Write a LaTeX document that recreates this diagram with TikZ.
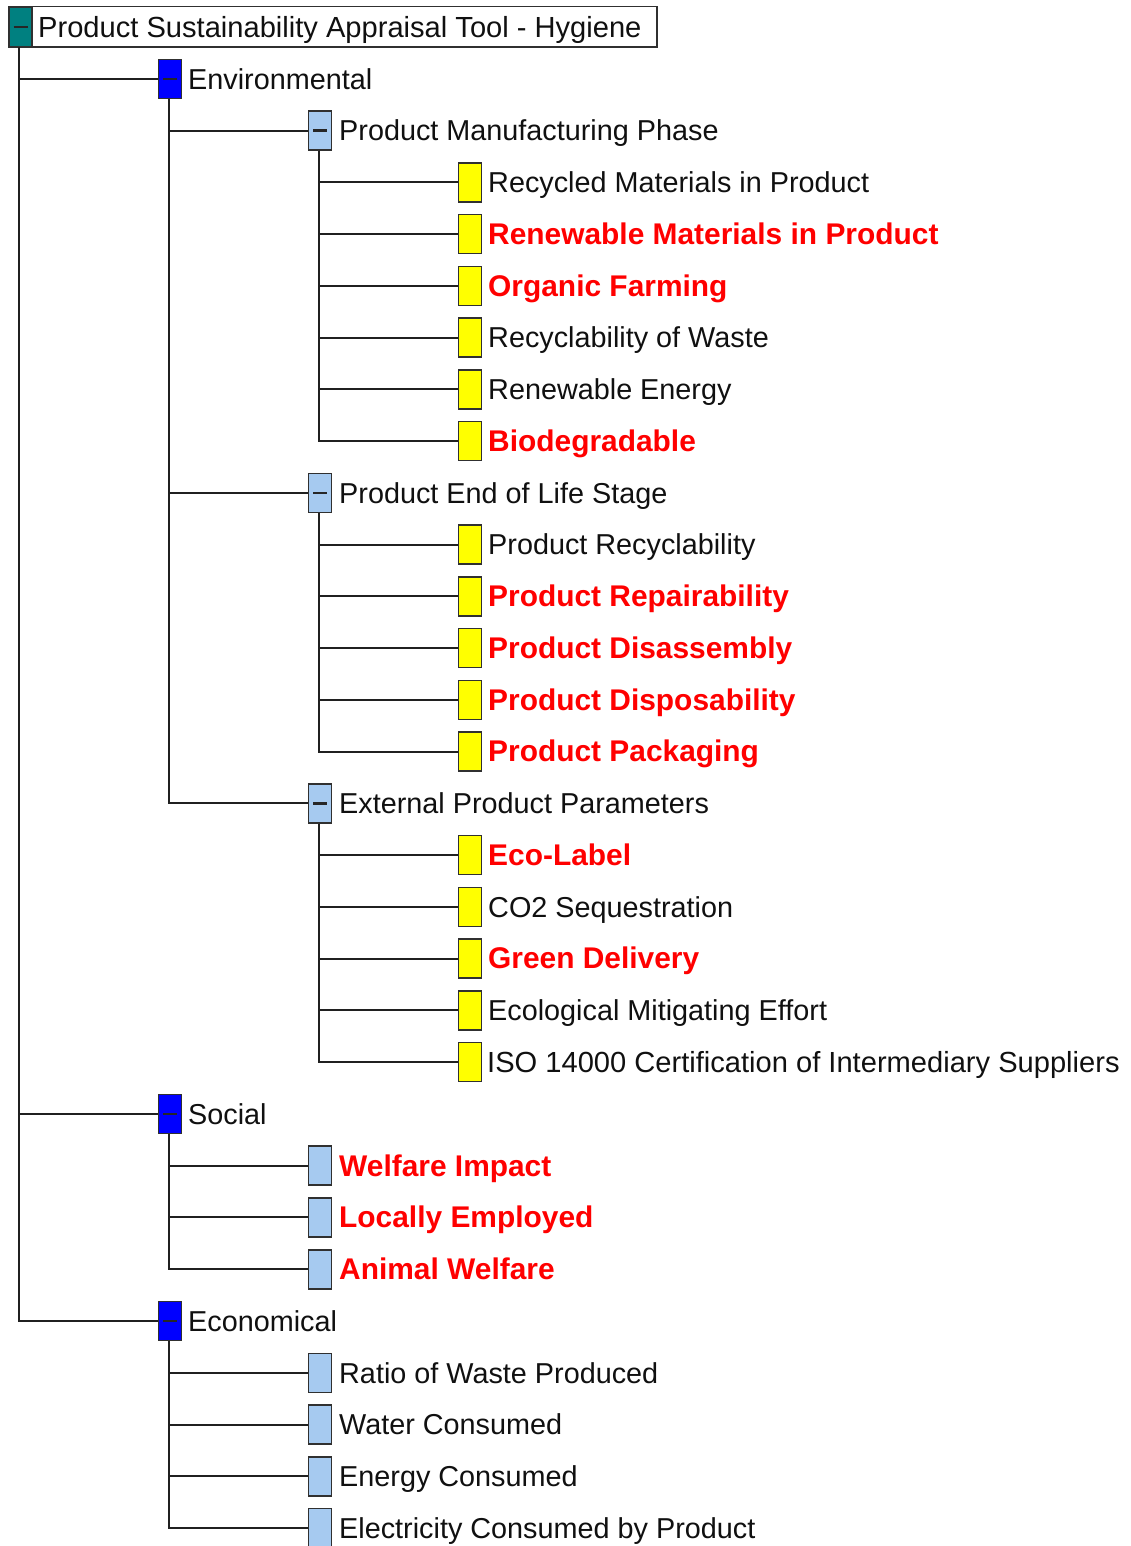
\documentclass[tikz,border=0pt]{standalone}
\usepackage{fontspec}
\setmainfont{Liberation Sans}
\definecolor{rootteal}{HTML}{008080}
\definecolor{catblue}{HTML}{0000FF}
\definecolor{grpblue}{HTML}{A6CAF0}
\definecolor{leafyellow}{HTML}{FFFF00}
\definecolor{hotred}{HTML}{FF0000}
\definecolor{linegray}{HTML}{202020}
\definecolor{boxgray}{HTML}{303030}
\definecolor{txtblack}{HTML}{101010}
\begin{document}
\begin{tikzpicture}[x=1pt,y=-51.76pt,
  conn/.style={draw=linegray, line width=2pt},
  sq/.style={draw=boxgray, line width=1.5pt, minimum width=23pt, minimum height=39pt, inner sep=0pt},
  rootsq/.style={sq, fill=rootteal},
  catsq/.style={sq, fill=catblue},
  grpsq/.style={sq, fill=grpblue},
  leafsq/.style={sq, fill=leafyellow},
  expanded/.style={path picture={\draw[line width=2.2pt, draw=black!85]
      ([xshift=-7pt]path picture bounding box.center) -- ([xshift=7pt]path picture bounding box.center);}},
  lbl/.style={anchor=base west, inner sep=0pt, yshift=-10.3pt, text=txtblack,
      font=\fontsize{28.8}{34}\selectfont},
  hot/.style={lbl, text=hotred, font=\fontsize{29.9}{34}\selectfont\bfseries},
  drop/.style={xshift=-1.5pt},
]
\useasboundingbox (0,-0.52164) rectangle (1130,29.3470);

% root
\node[rootsq, expanded] (root) at (20.5,0) {};
\coordinate (titleend) at (657,0);
\draw[boxgray, line width=1.5pt] (root.north west) rectangle (root.south -| titleend);
\node[lbl, font=\fontsize{29.1}{34}\selectfont] (t-root) at (38,0) {Product Sustainability Appraisal Tool - Hygiene};

% environmental branch
\node[catsq, expanded] (env) at (170,1) {};
\node[lbl] (t-env) at (188,1) {Environmental};

\node[grpsq, expanded] (pmp) at (320,2) {};
\node[lbl] (t-pmp) at (339,2) {Product Manufacturing Phase};
\node[leafsq] (l3) at (470,3) {};
\node[lbl] (t-l3) at (488,3) {Recycled Materials in Product};
\node[leafsq] (l4) at (470,4) {};
\node[hot] (t-l4) at (488,4) {Renewable Materials in Product};
\node[leafsq] (l5) at (470,5) {};
\node[hot] (t-l5) at (488,5) {Organic Farming};
\node[leafsq] (l6) at (470,6) {};
\node[lbl] (t-l6) at (488,6) {Recyclability of Waste};
\node[leafsq] (l7) at (470,7) {};
\node[lbl] (t-l7) at (488,7) {Renewable Energy};
\node[leafsq] (l8) at (470,8) {};
\node[hot] (t-l8) at (488,8) {Biodegradable};

\node[grpsq, expanded] (eol) at (320,9) {};
\node[lbl] (t-eol) at (339,9) {Product End of Life Stage};
\node[leafsq] (l10) at (470,10) {};
\node[lbl] (t-l10) at (488,10) {Product Recyclability};
\node[leafsq] (l11) at (470,11) {};
\node[hot] (t-l11) at (488,11) {Product Repairability};
\node[leafsq] (l12) at (470,12) {};
\node[hot] (t-l12) at (488,12) {Product Disassembly};
\node[leafsq] (l13) at (470,13) {};
\node[hot] (t-l13) at (488,13) {Product Disposability};
\node[leafsq] (l14) at (470,14) {};
\node[hot] (t-l14) at (488,14) {Product Packaging};

\node[grpsq, expanded] (ext) at (320,15) {};
\node[lbl] (t-ext) at (339,15) {External Product Parameters};
\node[leafsq] (l16) at (470,16) {};
\node[hot] (t-l16) at (488,16) {Eco-Label};
\node[leafsq] (l17) at (470,17) {};
\node[lbl] (t-l17) at (488,17) {CO2 Sequestration};
\node[leafsq] (l18) at (470,18) {};
\node[hot] (t-l18) at (488,18) {Green Delivery};
\node[leafsq] (l19) at (470,19) {};
\node[lbl] (t-l19) at (488,19) {Ecological Mitigating Effort};
\node[leafsq] (l20) at (470,20) {};
\node[lbl, font=\fontsize{29.1}{34}\selectfont] (t-l20) at (487,20) {ISO 14000 Certification of Intermediary Suppliers};

% social branch
\node[catsq, expanded] (soc) at (170,21) {};
\node[lbl] (t-soc) at (188,21) {Social};
\node[grpsq] (s22) at (320,22) {};
\node[hot] (t-s22) at (339,22) {Welfare Impact};
\node[grpsq] (s23) at (320,23) {};
\node[hot] (t-s23) at (339,23) {Locally Employed};
\node[grpsq] (s24) at (320,24) {};
\node[hot] (t-s24) at (339,24) {Animal Welfare};

% economical branch
\node[catsq, expanded] (eco) at (170,25) {};
\node[lbl] (t-eco) at (188,25) {Economical};
\node[grpsq] (e26) at (320,26) {};
\node[lbl] (t-e26) at (339,26) {Ratio of Waste Produced};
\node[grpsq] (e27) at (320,27) {};
\node[lbl] (t-e27) at (339,27) {Water Consumed};
\node[grpsq] (e28) at (320,28) {};
\node[lbl] (t-e28) at (339,28) {Energy Consumed};
\node[grpsq] (e29) at (320,29) {};
\node[lbl] (t-e29) at (339,29) {Electricity Consumed by Product};

% tree connectors: down from the parent's box, then across to each child
\foreach \c in {env,soc,eco} \draw[conn] ([drop]root.south) |- (\c.west);
\foreach \c in {pmp,eol,ext} \draw[conn] ([drop]env.south) |- (\c.west);
\foreach \c in {l3,l4,l5,l6,l7,l8} \draw[conn] ([drop]pmp.south) |- (\c.west);
\foreach \c in {l10,l11,l12,l13,l14} \draw[conn] ([drop]eol.south) |- (\c.west);
\foreach \c in {l16,l17,l18,l19,l20} \draw[conn] ([drop]ext.south) |- (\c.west);
\foreach \c in {s22,s23,s24} \draw[conn] ([drop]soc.south) |- (\c.west);
\foreach \c in {e26,e27,e28,e29} \draw[conn] ([drop]eco.south) |- (\c.west);
\end{tikzpicture}
\end{document}
